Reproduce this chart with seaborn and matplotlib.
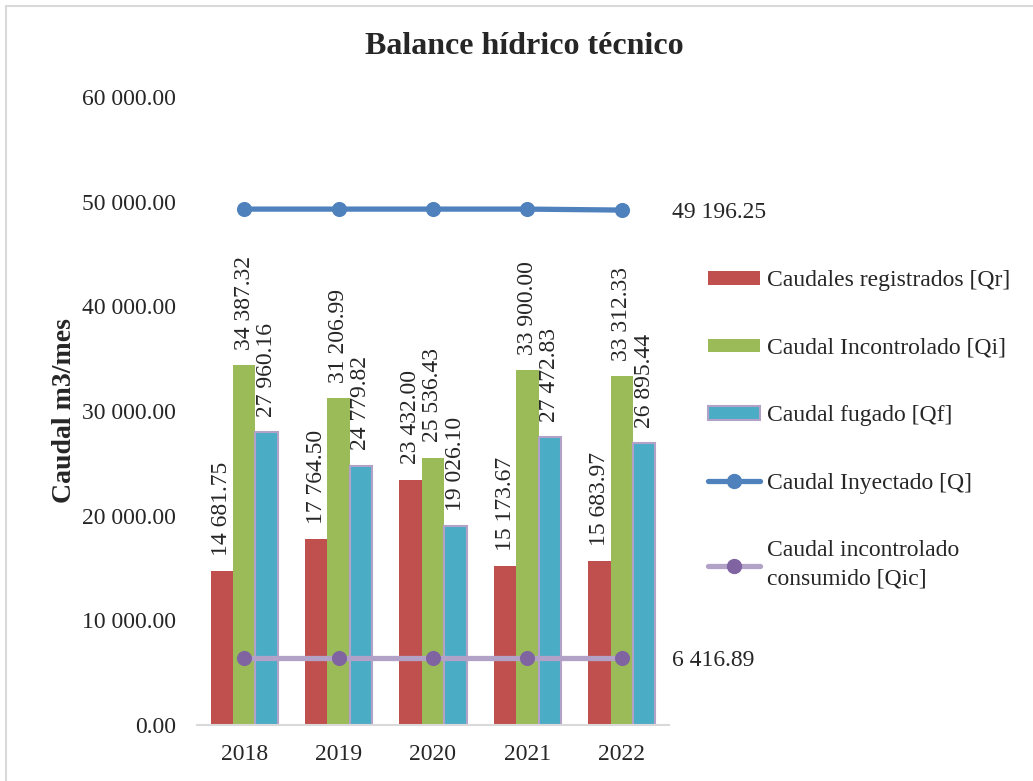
import matplotlib
matplotlib.use("Agg")
import matplotlib.pyplot as plt
import seaborn as sns
import pandas as pd
from matplotlib.patches import Patch
from matplotlib.lines import Line2D

years = ["2018", "2019", "2020", "2021", "2022"]
qr = [14681.75, 17764.50, 23432.00, 15173.67, 15683.97]
qi = [34387.32, 31206.99, 25536.43, 33900.00, 33312.33]
qf = [27960.16, 24779.82, 19026.10, 27472.83, 26895.44]
q_iny = [49290.00, 49290.00, 49290.00, 49290.00, 49196.25]
q_ic = [6416.89, 6416.89, 6416.89, 6416.89, 6416.89]

bar_names = ["Caudales registrados [Qr]", "Caudal Incontrolado [Qi]", "Caudal fugado [Qf]"]
line_names = ["Caudal Inyectado [Q]", "Caudal incontrolado\nconsumido [Qic]"]
yticks = [0, 10000, 20000, 30000, 40000, 50000, 60000]

bar_colors = ["#C0504D", "#9BBB59", "#4BACC6"]
q_color = "#4F81BD"
ic_line = "#B3A2C7"
ic_marker = "#8064A2"

FS = 17

def fmt(v):
    return f"{v:,.2f}".replace(",", " ")

sns.set_theme(style="white")
plt.rcParams["font.family"] = ["Liberation Serif", "DejaVu Serif"]

df = pd.DataFrame({"year": years * 3,
                   "value": qr + qi + qf,
                   "serie": [bar_names[0]] * 5 + [bar_names[1]] * 5 + [bar_names[2]] * 5})

fig = plt.figure(figsize=(10.33, 7.81), dpi=100)
ax = fig.add_axes([197 / 1033, 1 - 725 / 781, (669 - 197) / 1033, (725 - 97) / 781])

sns.barplot(data=df, x="year", y="value", hue="serie", palette=bar_colors,
            width=0.71, saturation=1, ax=ax, legend=False, errorbar=None)

for cont, name in zip(ax.containers, bar_names):
    for bar in cont:
        if name == bar_names[2]:
            bar.set_edgecolor(ic_line)
            bar.set_linewidth(1.5)
        else:
            bar.set_edgecolor("none")
    for bar, v in zip(cont, cont.datavalues):
        ax.annotate(fmt(v), (bar.get_x() + bar.get_width() / 2, v),
                    xytext=(0, 11), textcoords="offset points",
                    rotation=90, ha="center", va="bottom", fontsize=FS)

sns.pointplot(x=years, y=q_iny, color=q_color, markers="o", markersize=8,
              linewidth=3.8, ax=ax, errorbar=None)
sns.pointplot(x=years, y=q_ic, color=ic_line, markers="o", markersize=8,
              linewidth=3.8, ax=ax, errorbar=None)
ln = ax.lines[-1]
ln.set_markerfacecolor(ic_marker)
ln.set_markeredgecolor(ic_marker)

ax.annotate(fmt(q_iny[-1]), (4, q_iny[-1]), xytext=(36, -2), textcoords="offset points",
            ha="left", va="center", fontsize=FS)
ax.annotate(fmt(q_ic[-1]), (4, q_ic[-1]), xytext=(36, -2), textcoords="offset points",
            ha="left", va="center", fontsize=FS)

ax.set_ylim(0, 60000)
ax.set_xlim(-0.5, 4.5)
ax.set_yticks(yticks)
ax.set_yticklabels([fmt(v) for v in yticks], fontsize=FS)
ax.set_xticks(range(len(years)))
ax.set_xticklabels(years, fontsize=FS)
ax.set_xticks([i - 0.5 for i in range(len(years) + 1)], minor=True)
ax.tick_params(axis="y", length=0, pad=15)
ax.tick_params(axis="x", which="major", length=0, pad=14)
ax.tick_params(axis="x", which="minor", length=7, width=1.5, color="#D9D9D9", direction="out")
for s in ["left", "top", "right"]:
    ax.spines[s].set_visible(False)
ax.spines["bottom"].set_color("#D9D9D9")
ax.spines["bottom"].set_linewidth(1.5)
ax.set_xlabel("")
ax.set_ylabel("Caudal m3/mes", fontsize=20, fontweight="bold", labelpad=4)
ax.grid(False)

fig.text(524 / 1033, 1 - 46 / 781, "Balance hídrico técnico", ha="center", va="center",
         fontsize=23, fontweight="bold")

handles = [Patch(facecolor=bar_colors[0], edgecolor="none"),
           Patch(facecolor=bar_colors[1], edgecolor="none"),
           Patch(facecolor=bar_colors[2], edgecolor=ic_line, linewidth=1.5),
           Line2D([], [], color=q_color, lw=3.8, marker="o", markersize=10),
           Line2D([], [], color=ic_line, lw=3.8, marker="o", markersize=10,
                  markerfacecolor=ic_marker, markeredgecolor=ic_marker)]
leg = fig.legend(handles, bar_names + line_names, loc="upper left",
                 bbox_to_anchor=(699 / 1033, 1 - 261 / 781), frameon=False, fontsize=FS,
                 handlelength=2.2, handleheight=0.5, handletextpad=0.3, labelspacing=1.97,
                 borderaxespad=0)
leg.get_texts()[-1].set_linespacing(1.45)

fig.add_artist(Line2D([6 / 1033, 6 / 1033], [0, 1 - 6 / 781], transform=fig.transFigure,
                      color="#D9D9D9", lw=1.5))
fig.add_artist(Line2D([6 / 1033, 1], [1 - 6 / 781, 1 - 6 / 781], transform=fig.transFigure,
                      color="#D9D9D9", lw=1.5))

fig.savefig("out.png", dpi=100)
